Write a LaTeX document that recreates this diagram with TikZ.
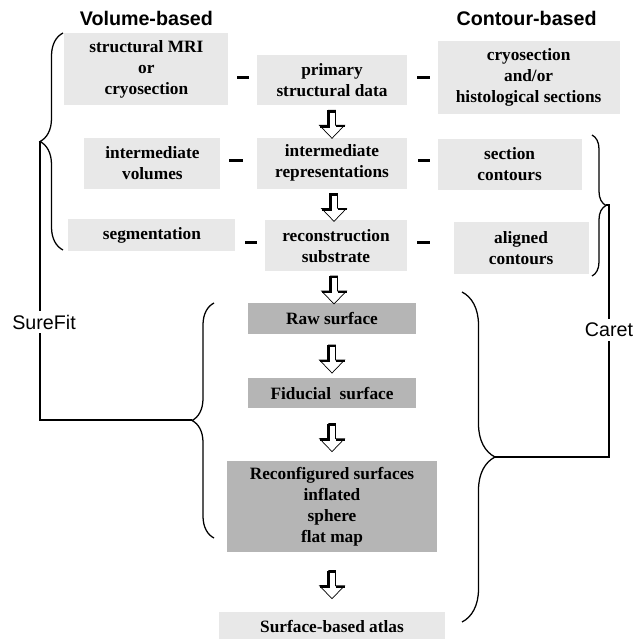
\documentclass[tikz,border=0pt]{standalone}
\usepackage{fontspec}
\setmainfont{Liberation Serif}
\setsansfont{Liberation Sans}
\usetikzlibrary{positioning,calc,decorations.pathreplacing}

\definecolor{lightfill}{gray}{0.91}
\definecolor{darkfill}{gray}{0.71}

\tikzset{
  box/.style={fill=lightfill,align=center,inner sep=1pt,
    font=\bfseries\fontsize{12.3}{15}\selectfont},
  surf/.style={box,fill=darkfill},
  head/.style={inner sep=0pt,font=\sffamily\bfseries\fontsize{14}{16}\selectfont},
  tool/.style={fill=white,inner sep=3pt,font=\sffamily\fontsize{14}{16}\selectfont},
  bar/.style={line width=2.1pt},
  brace/.style={decorate,line width=0.9pt},
  line/.style={line width=1pt},
  hollow/.pic={
    \draw[fill=white,line width=0.5pt] (-3.5,-11) -- (3.5,-11) -- (3.5,4) -- (12.5,4)
      -- (0,17) -- (-12.5,4) -- (-3.5,4) -- cycle;
    \draw[line width=2pt] (-3.5,-10) -- (3.5,-10);
    \draw[line width=2pt] (-12.5,5) -- (-3.5,5) -- (-3.5,-11);
    \draw[line width=1.4pt] (3.5,5) -- (12.5,5);
  }
}

\begin{document}
\begin{tikzpicture}[x=0.025cm,y=-0.025cm]
\useasboundingbox (0,0) rectangle (643,638);

% middle column
\node[box,minimum width=3.75cm,minimum height=1.25cm] (prim) at (332,80) {primary\\structural data};
\node[box,minimum width=3.75cm,minimum height=1.275cm,below=0.8cm of prim] (inter) {intermediate\\representations};
\node[box,minimum width=3.55cm,minimum height=1.275cm,below=0.775cm of inter,xshift=0.1cm] (recon) {reconstruction\\substrate};
\node[surf,minimum width=4.175cm,minimum height=0.775cm,below=0.775cm of recon,xshift=-0.1cm] (raw) {Raw surface};
\node[surf,minimum width=4.175cm,minimum height=0.75cm,below=1.1cm of raw] (fid) {Fiducial\ \ surface};
\node[surf,minimum width=5.25cm,minimum height=2.275cm,below=1.3cm of fid] (reconf) {Reconfigured surfaces\\inflated\\sphere\\flat map};
\node[box,minimum width=5.65cm,minimum height=0.725cm,below=1.475cm of reconf] (atlas) {Surface-based atlas};

% volume side
\node[box,minimum width=4.1cm,minimum height=1.8cm,left=0.7cm of prim,yshift=0.275cm] (mri) {structural MRI\\or\\cryosection};
\node[box,minimum width=3.4cm,minimum height=1.275cm,left=0.9cm of inter] (vol) {intermediate\\volumes};
\node[box,minimum width=4.175cm,minimum height=0.8cm,left=0.725cm of recon,yshift=0.26cm] (seg) {segmentation};

% contour side
\node[box,minimum width=4.55cm,minimum height=1.825cm,right=0.75cm of prim,yshift=0.06cm] (cryo) {cryosection\\and/or\\histological sections};
\node[box,minimum width=3.6cm,minimum height=1.275cm,right=0.75cm of inter,yshift=-0.025cm] (sec) {section\\contours};
\node[box,minimum width=3.375cm,minimum height=1.3cm,right=1.15cm of recon,yshift=-0.06cm] (align) {aligned\\contours};

\node[head,above=0.175cm of mri] (volhead) {Volume-based};
\node[head,above=0.375cm of cryo,xshift=-0.05cm] (conhead) {Contour-based};

% dashes between columns
\draw[bar,shorten <=0.2cm,shorten >=0.2cm] ([yshift=0.07cm]prim.west) -- ([yshift=0.07cm]prim.west -| mri.east);
\draw[bar,shorten <=0.25cm,shorten >=0.175cm] ([yshift=0.07cm]prim.east) -- ([yshift=0.07cm]prim.east -| cryo.west);
\draw[bar,shorten <=0.35cm,shorten >=0.2cm] ([yshift=0.07cm]inter.west) -- ([yshift=0.07cm]inter.west -| vol.east);
\draw[bar,shorten <=0.275cm,shorten >=0.175cm] ([yshift=0.07cm]inter.east) -- ([yshift=0.07cm]inter.east -| sec.west);
\draw[bar,shorten <=0.2cm,shorten >=0.225cm] ([yshift=0.07cm]recon.west) -- ([yshift=0.07cm]recon.west -| seg.east);
\draw[bar,shorten <=0.25cm,shorten >=0.575cm] ([yshift=0.07cm]recon.east) -- ([yshift=0.07cm]recon.east -| align.west);

% flow arrows
\pic at ($(prim.south)!.5!(inter.north)$) {hollow};
\pic at ($(inter.south)!.5!(recon.north)$) {hollow};
\pic at ($(recon.south)!.5!(raw.north)$) {hollow};
\pic at ($(raw.south)!.5!(fid.north)$) {hollow};
\pic at ($(fid.south)!.5!(reconf.north)$) {hollow};
\pic at ($(reconf.south)!.5!(atlas.north)$) {hollow};

% braces
\draw[brace,decoration={brace,amplitude=0.575cm}] (63,250) -- (63,33);
\draw[brace,decoration={brace,amplitude=0.55cm}] (214,538) -- (214,303);
\draw[brace,decoration={brace,amplitude=0.35cm}] (592,135) -- (592,276);
\draw[brace,decoration={brace,amplitude=0.825cm}] (462,292) -- (462,622);

\coordinate (sftop) at (40,141);
\coordinate (sfbot) at (192,420);
\coordinate (crtop) at (606,205);
\coordinate (crbot) at (495,457);
\draw[line] (sftop) |- (sfbot);
\draw[line] (crtop) -- ++(3,0) |- (crbot);
\node[tool] (surefit) at (44,322) {SureFit};
\node[tool] (caret) at (609,330) {Caret};
\end{tikzpicture}
\end{document}
